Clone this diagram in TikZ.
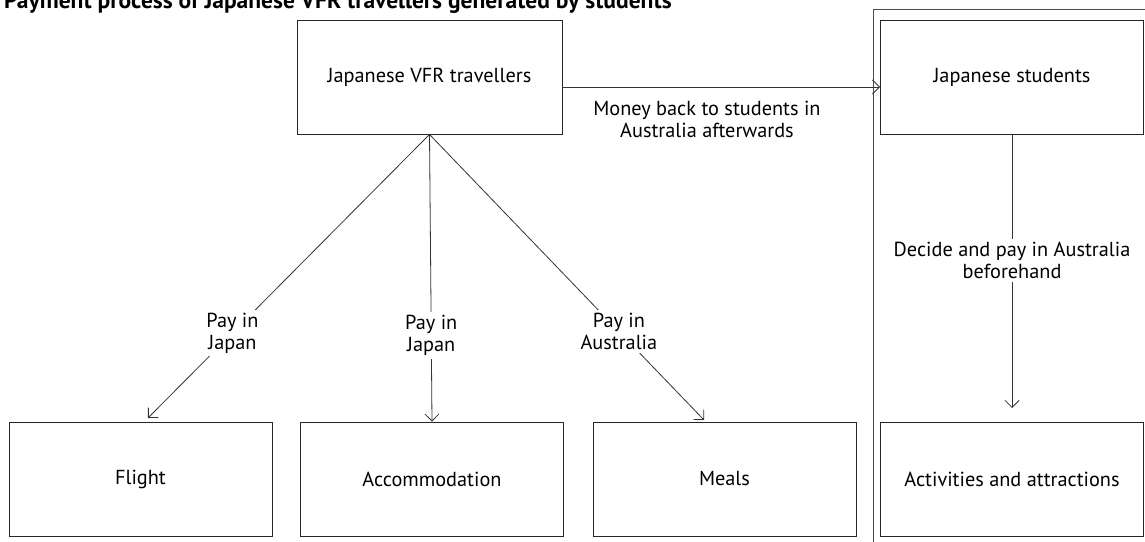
\documentclass[tikz,border=0pt]{standalone}
\usepackage{fontspec}
\setmainfont{PT Sans}
\usetikzlibrary{arrows.meta}
\begin{document}
\begin{tikzpicture}[x=1pt,y=-1pt,
  box/.style={draw=black!85, line width=0.9pt, minimum width=263pt, minimum height=114pt, inner sep=0pt, font=\fontsize{20.3}{22}\selectfont},
  conn/.style={draw=black!80, line width=0.8pt, -{Straight Barb[length=7pt,width=14pt]}},
  lab/.style={fill=white, inner sep=3pt, align=center, font=\fontsize{20.3}{22}\selectfont},
  frame/.style={draw=black!70, line width=1pt}]
\clip (0,0) rectangle (1145,541);
\node[anchor=base west, font=\bfseries\fontsize{23.5}{28}\selectfont, inner sep=0pt] (title) at (4,8) {Payment process of Japanese VFR travellers generated by students};
\draw[frame] (873,560) -- (873,9.5) -- (1170,9.5);
\node[box, minimum width=265pt] (vfr) at (429.5,77) {Japanese VFR travellers};
\node[box] (stu) at (1012,77) {Japanese students};
\node[box] (fl) at (140.5,479) {Flight};
\node[box] (acc) at (432,479) {Accommodation};
\node[box] (meal) at (724.5,479) {Meals};
\node[box] (act) at (1012,479) {Activities and attractions};
\coordinate (flt) at (148,418);
\coordinate (mlt) at (704,420);
\coordinate (actt) at (1012,408);
\draw[conn] ([yshift=-10pt]vfr.east) -- ([yshift=-10pt]stu.west);
\node[align=center, font=\fontsize{20.3}{22}\selectfont] (money) at (707,119) {Money back to students in\\Australia afterwards};
\draw[conn] (vfr.south) -- node[lab, pos=0.70] (l1) {Pay in\\Japan} (flt);
\draw[conn] (vfr.south) -- node[lab, pos=0.70] (l2) {Pay in\\Japan} (acc.north);
\draw[conn] (vfr.south) -- node[lab, pos=0.69] (l3) {Pay in\\Australia} (mlt);
\draw[conn] (stu.south) -- node[lab, pos=0.46] (l4) {Decide and pay in Australia\\beforehand} (actt);
\end{tikzpicture}
\end{document}
